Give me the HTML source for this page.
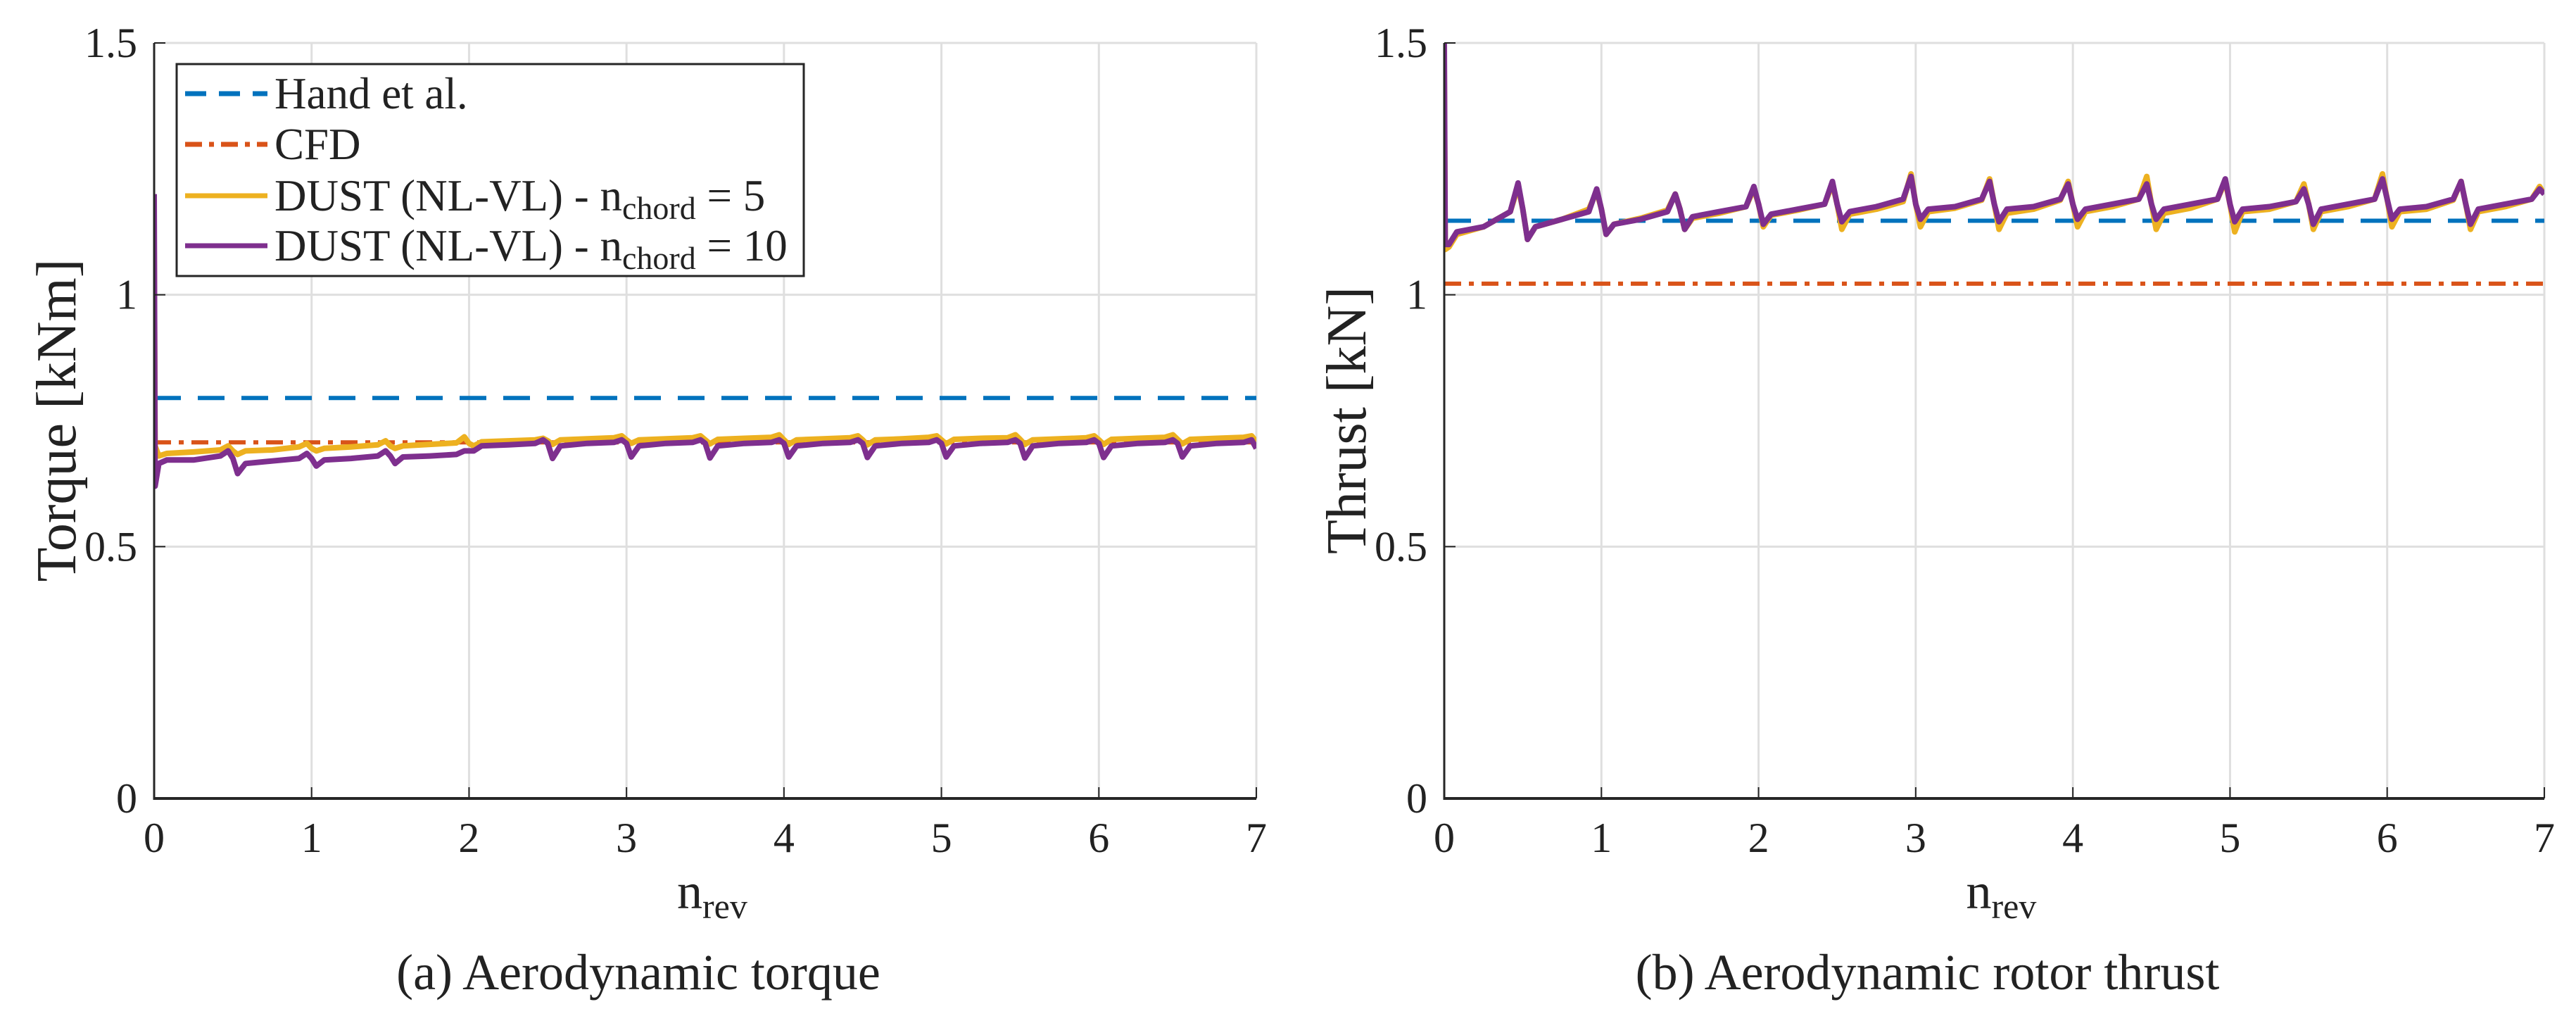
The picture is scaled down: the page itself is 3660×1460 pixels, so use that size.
<!DOCTYPE html>
<html><head><meta charset="utf-8"><style>
html,body{margin:0;padding:0;background:#fff}
svg{display:block}
text{font-family:"Liberation Serif",serif;fill:#222}
</style></head><body>
<svg id="fig" width="3660" height="1460" viewBox="0 0 3660 1460" xmlns="http://www.w3.org/2000/svg">
<defs>
<clipPath id="clipA"><rect x="219" y="61" width="1566" height="1073"/></clipPath>
<clipPath id="clipB"><rect x="2052" y="61" width="1563" height="1073"/></clipPath>
</defs>
<g id="panelA"></g>
<g id="panelB"></g>
</svg>
<script>
// ---- data ----
const xTicks = [0,1,2,3,4,5,6,7];
const yTicks = [0,0.5,1,1.5];
const yTickLabels = ["0","0.5","1","1.5"];
const segOffsets = [0.03,0.08,0.25,0.42,0.47,0.5];
const handTorque = 0.795;
const cfdTorque = 0.707;
const handThrust = 1.147;
const cfdThrust = 1.022;
const torqueStart5 = [1.1,0.70];
const torqueStart10 = [1.2,0.62];
const thrustStart5 = [1.45,1.09];
const thrustStart10 = [1.5,1.10];
const torque5 = [
[0.68,0.685,0.688,0.692,0.70,0.69],
[0.683,0.69,0.692,0.698,0.705,0.695],
[0.69,0.695,0.698,0.702,0.71,0.70],
[0.695,0.70,0.703,0.706,0.718,0.705],
[0.70,0.708,0.71,0.712,0.715,0.71],
[0.703,0.712,0.714,0.716,0.72,0.712],
[0.705,0.712,0.714,0.716,0.72,0.712],
[0.704,0.713,0.715,0.717,0.722,0.712],
[0.703,0.712,0.714,0.716,0.72,0.712],
[0.702,0.712,0.714,0.717,0.72,0.712],
[0.704,0.713,0.715,0.716,0.722,0.713],
[0.703,0.712,0.714,0.716,0.72,0.712],
[0.703,0.713,0.715,0.717,0.722,0.713],
[0.704,0.713,0.715,0.717,0.72,0.708]];
const torque10 = [
[0.665,0.672,0.672,0.68,0.69,0.675],
[0.645,0.665,0.67,0.675,0.685,0.675],
[0.66,0.672,0.675,0.68,0.69,0.68],
[0.665,0.678,0.68,0.683,0.69,0.69],
[0.69,0.70,0.702,0.705,0.712,0.705],
[0.675,0.70,0.705,0.707,0.712,0.705],
[0.678,0.70,0.705,0.707,0.712,0.705],
[0.676,0.70,0.705,0.707,0.712,0.705],
[0.678,0.70,0.705,0.707,0.712,0.705],
[0.677,0.70,0.705,0.707,0.712,0.705],
[0.678,0.70,0.705,0.707,0.712,0.705],
[0.676,0.70,0.705,0.707,0.712,0.705],
[0.677,0.70,0.705,0.707,0.712,0.705],
[0.678,0.70,0.705,0.707,0.712,0.695]];
const thrust5 = [
[1.095,1.12,1.135,1.165,1.215,1.17],
[1.11,1.135,1.15,1.17,1.205,1.17],
[1.12,1.14,1.152,1.168,1.20,1.17],
[1.13,1.152,1.162,1.175,1.21,1.18],
[1.135,1.158,1.168,1.18,1.22,1.18],
[1.13,1.16,1.17,1.185,1.24,1.18],
[1.135,1.165,1.172,1.188,1.23,1.18],
[1.13,1.162,1.17,1.188,1.225,1.18],
[1.135,1.165,1.175,1.19,1.235,1.18],
[1.13,1.162,1.172,1.19,1.225,1.18],
[1.125,1.165,1.17,1.185,1.22,1.18],
[1.13,1.165,1.175,1.19,1.24,1.19],
[1.135,1.165,1.17,1.188,1.225,1.18],
[1.13,1.165,1.175,1.19,1.215,1.20]];
const thrust10 = [
[1.10,1.125,1.135,1.165,1.222,1.17],
[1.11,1.135,1.15,1.165,1.21,1.17],
[1.12,1.14,1.15,1.165,1.20,1.17],
[1.13,1.155,1.165,1.175,1.215,1.18],
[1.14,1.16,1.17,1.18,1.225,1.18],
[1.145,1.165,1.175,1.19,1.235,1.18],
[1.15,1.17,1.175,1.19,1.225,1.18],
[1.145,1.17,1.175,1.19,1.22,1.18],
[1.15,1.17,1.18,1.19,1.22,1.18],
[1.15,1.17,1.18,1.19,1.23,1.18],
[1.145,1.17,1.175,1.185,1.21,1.18],
[1.14,1.17,1.18,1.19,1.23,1.19],
[1.15,1.17,1.175,1.19,1.225,1.18],
[1.14,1.17,1.18,1.19,1.21,1.20]];

const NS = "http://www.w3.org/2000/svg";
function mk(parent, tag, attrs){
  const e = document.createElementNS(NS, tag);
  for (const k in attrs) e.setAttribute(k, attrs[k]);
  parent.appendChild(e);
  return e;
}
const COLORS = {hand:"#0072BD", cfd:"#D95319", d5:"#EDB120", d10:"#7E2F8E"};

function buildPanel(g, x0, x1, clipId, opts){
  const yTop = 61, yBot = 1134;
  const sx = v => x0 + (x1 - x0) * v / 7;
  const sy = v => yBot - (yBot - yTop) * v / 1.5;
  xTicks.forEach(t => {
    const l = mk(g, "line", {x1:sx(t), x2:sx(t), y1:yTop, y2:yBot, stroke:"#dfdfdf", "stroke-width":3});
    
    
  });
  yTicks.forEach(t => {
    const l = mk(g, "line", {x1:x0, x2:x1, y1:sy(t), y2:sy(t), stroke:"#dfdfdf", "stroke-width":3});
    
    
  });
  const dg = mk(g, "g", {"clip-path":"url(#"+clipId+")"});
  
  
  const hl = mk(dg, "line", {x1:sx(0), x2:sx(7), y1:sy(opts.hand), y2:sy(opts.hand), stroke:COLORS.hand, "stroke-width":6, "stroke-dasharray":"38 24"});
  
  
  const cl = mk(dg, "line", {x1:sx(0), x2:sx(7), y1:sy(opts.cfd), y2:sy(opts.cfd), stroke:COLORS.cfd, "stroke-width":6, "stroke-dasharray":"24 11 7 11"});
  
  
  function series(start, segs, color, name){
    let d = "M" + sx(0) + "," + sy(start[0]) + " L" + sx(0.006) + "," + sy(start[1]);
    segs.forEach((seg, k) => {
      seg.forEach((v, i) => { d += " L" + sx(0.5*k + segOffsets[i]).toFixed(1) + "," + sy(v).toFixed(1); });
    });
    const p = mk(dg, "path", {d:d, fill:"none", stroke:color, "stroke-width":8, "stroke-linejoin":"round"});
    
    
  }
  series(opts.s5start, opts.s5, COLORS.d5, 'dust-nchord-5-line');
  series(opts.s10start, opts.s10, COLORS.d10, 'dust-nchord-10-line');
  const ya = mk(g, "line", {x1:x0, x2:x0, y1:yTop, y2:yBot+2, stroke:"#262626", "stroke-width":3});
  
  
  const xa = mk(g, "line", {x1:x0, x2:x1, y1:yBot, y2:yBot, stroke:"#262626", "stroke-width":4});
  
  
  xTicks.forEach(t => {
    const tk = mk(g, "line", {x1:sx(t), x2:sx(t), y1:yBot, y2:yBot-16, stroke:"#262626", "stroke-width":2});
    
    
    const tl = mk(g, "text", {x:sx(t), y:yBot+76, "font-size":60, "text-anchor":"middle"});
    tl.textContent = String(t);
    
    
  });
  yTicks.forEach((t, i) => {
    const tk = mk(g, "line", {x1:x0, x2:x0+16, y1:sy(t), y2:sy(t), stroke:"#262626", "stroke-width":2});
    
    
    const tl = mk(g, "text", {x:x0-24, y:sy(t)+20, "font-size":60, "text-anchor":"end"});
    tl.textContent = yTickLabels[i];
    
    
  });
  const yl = mk(g, "text", {x:0, y:0, "font-size":80, "text-anchor":"middle", transform:"translate("+(x0-112)+",597) rotate(-90)"});
  yl.textContent = opts.ylabel;
  
  
  const xl = mk(g, "text", {x:(x0+x1)/2-40, y:1290, "font-size":72});
  xl.innerHTML = 'n<tspan font-size="50" dy="14">rev</tspan>';
  
  
  const cap = mk(g, "text", {x:(x0+x1)/2-95, y:1405, "font-size":72, "text-anchor":"middle"});
  cap.textContent = opts.caption;
  
  
}

buildPanel(document.getElementById('panelA'), 219, 1785, 'clipA', {
  hand:handTorque, cfd:cfdTorque, s5start:torqueStart5, s5:torque5, s10start:torqueStart10, s10:torque10,
  ylabel:"Torque [kNm]", caption:"(a)  Aerodynamic torque"});
buildPanel(document.getElementById('panelB'), 2052, 3615, 'clipB', {
  hand:handThrust, cfd:cfdThrust, s5start:thrustStart5, s5:thrust5, s10start:thrustStart10, s10:thrust10,
  ylabel:"Thrust [kN]", caption:"(b)  Aerodynamic rotor thrust"});

const lg = mk(document.getElementById('panelA'), "g", {});


mk(lg, "rect", {x:251, y:91, width:891, height:301, fill:"#fff", stroke:"#262626", "stroke-width":3});
const legendItems = [
  {c:COLORS.hand, dash:"30 18", label:'Hand et al.', name:'legend-entry-hand'},
  {c:COLORS.cfd, dash:"24 10 7 10", label:'CFD', name:'legend-entry-cfd'},
  {c:COLORS.d5, dash:"", label:'DUST (NL-VL) - n<tspan font-size="46" dy="12">chord</tspan><tspan dy="-12"> = 5</tspan>', name:'legend-entry-dust-5'},
  {c:COLORS.d10, dash:"", label:'DUST (NL-VL) - n<tspan font-size="46" dy="12">chord</tspan><tspan dy="-12"> = 10</tspan>', name:'legend-entry-dust-10'}
];
const legendYs = [133,205,278,349];
legendItems.forEach((it, i) => {
  const y = legendYs[i];
  const ln = mk(lg, "line", {x1:263, x2:380, y1:y, y2:y, stroke:it.c, "stroke-width":7, "stroke-dasharray":it.dash||"none"});
  
  
  const t = mk(lg, "text", {x:390, y:y+21, "font-size":63});
  t.innerHTML = it.label;
  
  
});
</script>
</body></html>
